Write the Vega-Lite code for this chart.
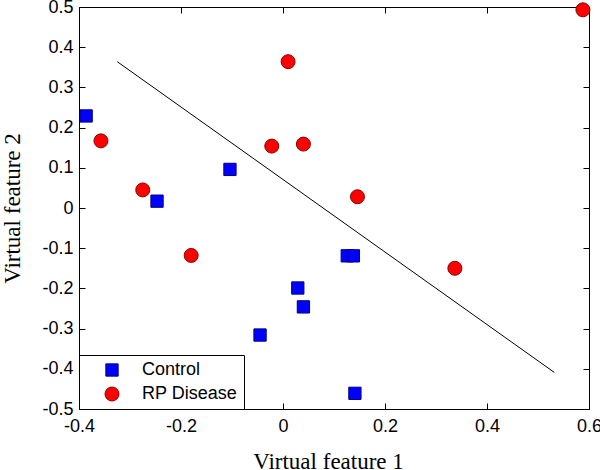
{
  "$schema": "https://vega.github.io/schema/vega-lite/v6.json",
  "width": 510,
  "height": 402,
  "autosize": {"type": "none"},
  "padding": {"left": 79, "top": 7, "right": 11, "bottom": 61},
  "background": "white",
  "config": {
    "view": {"stroke": "black", "strokeWidth": 1},
    "axis": {
      "grid": false,
      "labelFont": "Liberation Sans",
      "labelFontSize": 18,
      "labelColor": "black",
      "titleFont": "Liberation Serif",
      "titleFontSize": 23,
      "titleFontWeight": "normal",
      "titleColor": "black",
      "tickColor": "black",
      "tickSize": -6,
      "domainColor": "black",
      "labelFlush": false,
      "labelOverlap": false
    }
  },
  "datasets": {
    "line": [
      {"f1": -0.325, "f2": 0.364},
      {"f1": 0.532, "f2": -0.409}
    ],
    "points": [
      {"group": "Control", "f1": -0.386, "f2": 0.229},
      {"group": "Control", "f1": -0.247, "f2": 0.017},
      {"group": "Control", "f1": -0.104, "f2": 0.096},
      {"group": "Control", "f1": -0.045, "f2": -0.316},
      {"group": "Control", "f1": 0.029, "f2": -0.199},
      {"group": "Control", "f1": 0.040, "f2": -0.246},
      {"group": "Control", "f1": 0.126, "f2": -0.119},
      {"group": "Control", "f1": 0.138, "f2": -0.119},
      {"group": "Control", "f1": 0.141, "f2": -0.461},
      {"group": "RP Disease", "f1": -0.357, "f2": 0.167},
      {"group": "RP Disease", "f1": -0.275, "f2": 0.045},
      {"group": "RP Disease", "f1": -0.180, "f2": -0.118},
      {"group": "RP Disease", "f1": 0.010, "f2": 0.364},
      {"group": "RP Disease", "f1": -0.022, "f2": 0.154},
      {"group": "RP Disease", "f1": 0.040, "f2": 0.159},
      {"group": "RP Disease", "f1": 0.146, "f2": 0.028},
      {"group": "RP Disease", "f1": 0.337, "f2": -0.150},
      {"group": "RP Disease", "f1": 0.588, "f2": 0.493}
    ]
  },
  "layer": [
    {
      "data": {"name": "line"},
      "mark": {"type": "line", "color": "black", "strokeWidth": 1},
      "encoding": {
        "x": {
          "field": "f1", "type": "quantitative",
          "scale": {"domain": [-0.4, 0.6], "nice": false, "zero": false},
          "axis": {
            "orient": "bottom",
            "values": [-0.4, -0.2, 0, 0.2, 0.4, 0.6],
            "labelExpr": "datum.value == 0 ? '0' : replace(format(datum.value, '.1f'), '\u2212', '-')",
            "labelPadding": 14,
            "title": "Virtual feature 1",
            "titleX": 249,
            "titleY": 59,
            "titleBaseline": "alphabetic"
          }
        },
        "y": {
          "field": "f2", "type": "quantitative",
          "scale": {"domain": [-0.5, 0.5], "nice": false, "zero": false},
          "axis": {
            "orient": "left",
            "values": [-0.5, -0.4, -0.3, -0.2, -0.1, 0, 0.1, 0.2, 0.3, 0.4, 0.5],
            "labelExpr": "datum.value == 0 ? '0' : replace(format(datum.value, '.1f'), '\u2212', '-')",
            "labelPadding": 12,
            "title": "Virtual feature 2",
            "titleX": -60,
            "titleY": 201,
            "titleBaseline": "alphabetic"
          }
        }
      }
    },
    {
      "data": {"name": "points"},
      "mark": {"type": "point", "opacity": 1, "fillOpacity": 1, "strokeOpacity": 1, "strokeWidth": 1},
      "encoding": {
        "x": {
          "field": "f1", "type": "quantitative",
          "scale": {"domain": [-0.4, 0.6], "nice": false, "zero": false},
          "axis": {"orient": "top", "values": [-0.4, -0.2, 0, 0.2, 0.4, 0.6], "labels": false, "domain": false, "title": null}
        },
        "y": {
          "field": "f2", "type": "quantitative",
          "scale": {"domain": [-0.5, 0.5], "nice": false, "zero": false},
          "axis": {"orient": "right", "values": [-0.5, -0.4, -0.3, -0.2, -0.1, 0, 0.1, 0.2, 0.3, 0.4, 0.5], "labels": false, "domain": false, "title": null}
        },
        "fill": {
          "field": "group", "type": "nominal",
          "scale": {"domain": ["Control", "RP Disease"], "range": ["#0000ff", "#ff0000"]},
          "legend": {
            "title": null,
            "orient": "none",
            "legendX": 0,
            "legendY": 348,
            "strokeColor": "black",
            "fillColor": "white",
            "padding": 6,
            "symbolOffset": 18,
            "labelOffset": 21,
            "labelFont": "Liberation Sans",
            "labelFontSize": 18,
            "labelColor": "black",
            "symbolStrokeWidth": 1,
            "rowPadding": 6,
            "cornerRadius": 0
          }
        },
        "stroke": {
          "field": "group", "type": "nominal",
          "scale": {"domain": ["Control", "RP Disease"], "range": ["#00007a", "#8b0000"]}
        },
        "shape": {
          "field": "group", "type": "nominal",
          "scale": {"domain": ["Control", "RP Disease"], "range": ["square", "circle"]}
        },
        "size": {
          "field": "group", "type": "nominal",
          "scale": {"domain": ["Control", "RP Disease"], "range": [151, 196]}
        }
      }
    }
  ],
  "resolve": {"axis": {"x": "independent", "y": "independent"}}
}
